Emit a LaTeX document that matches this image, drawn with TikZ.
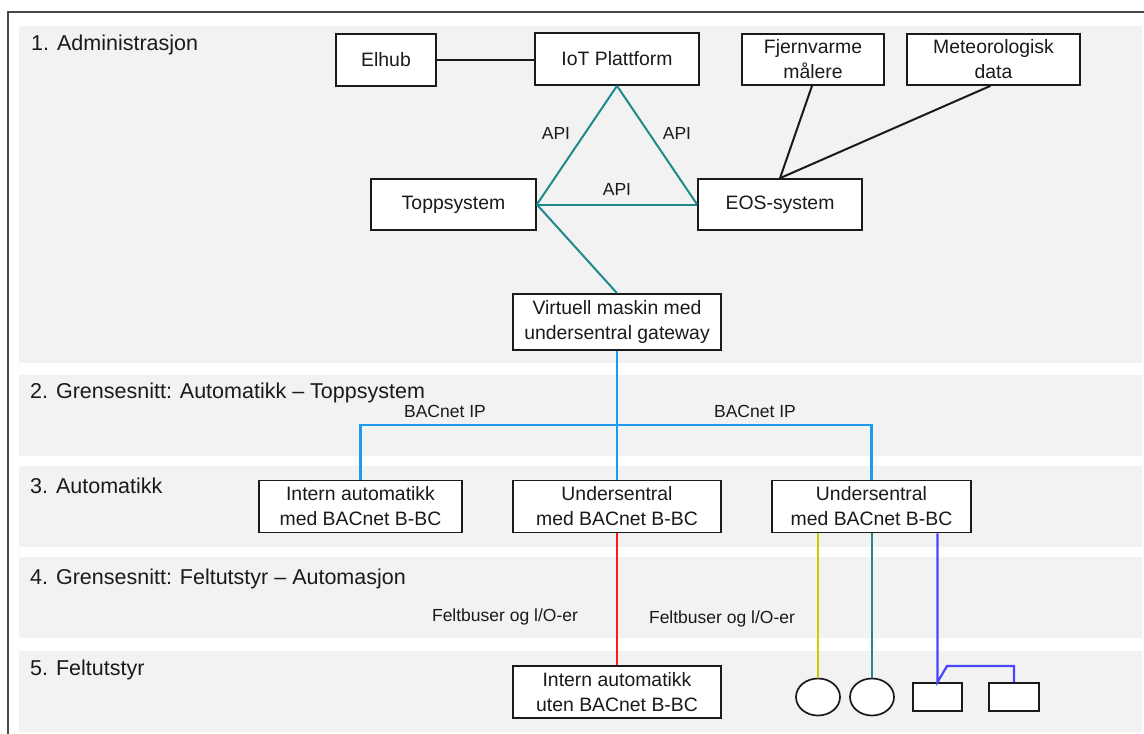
\documentclass[tikz,border=0pt]{standalone}
\usepackage{fontspec}
\setmainfont{Liberation Sans}
\usetikzlibrary{calc,shapes.geometric}
\definecolor{bandgrey}{HTML}{F2F2F2}
\definecolor{framegrey}{HTML}{4A4A4A}
\definecolor{inkblack}{HTML}{1A1A1A}
\definecolor{apiteal}{HTML}{1F8A8C}
\definecolor{ipblue}{HTML}{1E9BF0}
\definecolor{busred}{HTML}{FF1A1A}
\definecolor{busyellow}{HTML}{CCCC00}
\definecolor{busteal}{HTML}{2A8585}
\definecolor{busblue}{HTML}{4646FF}
\tikzset{
  band/.style={fill=bandgrey, draw=none},
  sectitle/.style={anchor=west, inner sep=0pt, text=inkblack, font=\fontsize{21.5}{25}\selectfont},
  sysbox/.style={draw=inkblack, fill=white, line width=1.7pt, rectangle, inner sep=0pt, align=center, text=inkblack, font=\fontsize{19.4}{25}\selectfont},
  dev/.style={draw=inkblack, fill=white, line width=1.7pt, inner sep=0pt},
  lbl/.style={inner sep=0pt, text=inkblack, font=\fontsize{17.5}{21}\selectfont},
  blackline/.style={draw=inkblack, line width=2pt},
  tealline/.style={draw=apiteal, line width=2pt},
  blueline/.style={draw=ipblue, line width=2.2pt},
  busline/.style={line width=2.2pt},
}
\begin{document}
\begin{tikzpicture}[x=1pt,y=-1pt]
\useasboundingbox (0,0) rectangle (1144,734);
% bands
\fill[band] (19,26) rectangle (1142,363);
\fill[band] (19,375) rectangle (1142,456);
\fill[band] (19,466) rectangle (1142,547);
\fill[band] (19,557) rectangle (1142,638);
\fill[band] (19,651) rectangle (1142,732);
% outer frame
\draw[framegrey, line width=1.6pt] (8,734) -- (8,12) -- (1144,12);
% section titles
\node[sectitle] (t1) at (31,45) {1. Administrasjon};
\node[sectitle] (t2) at (30,393) {2. Grensesnitt: Automatikk – Toppsystem};
\node[sectitle] (t3) at (30,486) {3. Automatikk};
\node[sectitle] (t4) at (30,579) {4. Grensesnitt: Feltutstyr – Automasjon};
\node[sectitle] (t5) at (30,670) {5. Feltutstyr};
% boxes
\node[sysbox, minimum width=100pt, minimum height=52pt] (elhub) at (386,60) {Elhub};
\node[sysbox, minimum width=164pt, minimum height=52pt] (iot) at (617,59) {IoT Plattform};
\node[sysbox, minimum width=142pt, minimum height=51pt] (fjern) at (813,59.5) {Fjernvarme\\målere};
\node[sysbox, minimum width=173pt, minimum height=51pt] (meteo) at (993.5,59.5) {Meteorologisk\\data};
\node[sysbox, minimum width=165pt, minimum height=51pt] (topp) at (453.5,204.5) {Toppsystem};
\node[sysbox, minimum width=164pt, minimum height=51pt] (eos) at (780,204.5) {EOS-system};
\node[sysbox, minimum width=208pt, minimum height=56pt] (virt) at (617,322) {Virtuell maskin med\\undersentral gateway};
\node[sysbox, minimum width=203pt, minimum height=52pt] (intern1) at (360.5,506.5) {Intern automatikk\\med BACnet B-BC};
\node[sysbox, minimum width=208pt, minimum height=52pt] (under1) at (617,506.5) {Undersentral\\med BACnet B-BC};
\node[sysbox, minimum width=199pt, minimum height=52pt] (under2) at (871.5,506.5) {Undersentral\\med BACnet B-BC};
\node[sysbox, minimum width=208pt, minimum height=52pt] (intern2) at (617,692) {Intern automatikk\\uten BACnet B-BC};
% field devices
\node[dev, ellipse, minimum width=44pt, minimum height=37pt] (e1) at (818,697) {};
\node[dev, ellipse, minimum width=44pt, minimum height=37pt] (e2) at (872,697) {};
\node[dev, rectangle, minimum width=49pt, minimum height=28pt] (r1) at (937.5,697) {};
\node[dev, rectangle, minimum width=50pt, minimum height=28pt] (r2) at (1014,697) {};
% admin connectors
\draw[blackline] (elhub.east) -- (elhub.east -| iot.west);
\draw[tealline] (iot.south) -- (topp.east);
\draw[tealline] (iot.south) -- (eos.west);
\draw[tealline] (topp.east) -- (eos.west);
\draw[tealline] (topp.east) -- (virt.north);
\draw[blackline] (fjern.south) ++(-1,0) -- (eos.north);
\draw[blackline] (meteo.south) ++(-3,0) -- (eos.north);
\node[lbl] (api1) at (556,133) {API};
\node[lbl] (api2) at (677,133) {API};
\node[lbl] (api3) at (617,189) {API};
% BACnet IP
\draw[blueline] (virt.south) -- (under1.north);
\draw[blueline] (intern1.north) -- ++(0,-55) -| (under2.north);
\node[lbl] (bip1) at (445,411) {BACnet IP};
\node[lbl] (bip2) at (755,411) {BACnet IP};
% field buses
\draw[busline, draw=busred] (under1.south) -- (intern2.north);
\draw[busline, draw=busyellow] (under2.south -| e1.north) -- (e1.north);
\draw[busline, draw=busteal] (under2.south -| e2.north) -- (e2.north);
\coordinate (bend) at (947,666);
\draw[busline, draw=busblue] (under2.south -| r1.north) -- (r1.north) -- (bend) -- (bend -| r2.north) -- (r2.north);
\node[lbl] (fb1) at (505,617) {Feltbuser og l/O-er};
\node[lbl] (fb2) at (722,619) {Feltbuser og l/O-er};
\end{tikzpicture}
\end{document}
